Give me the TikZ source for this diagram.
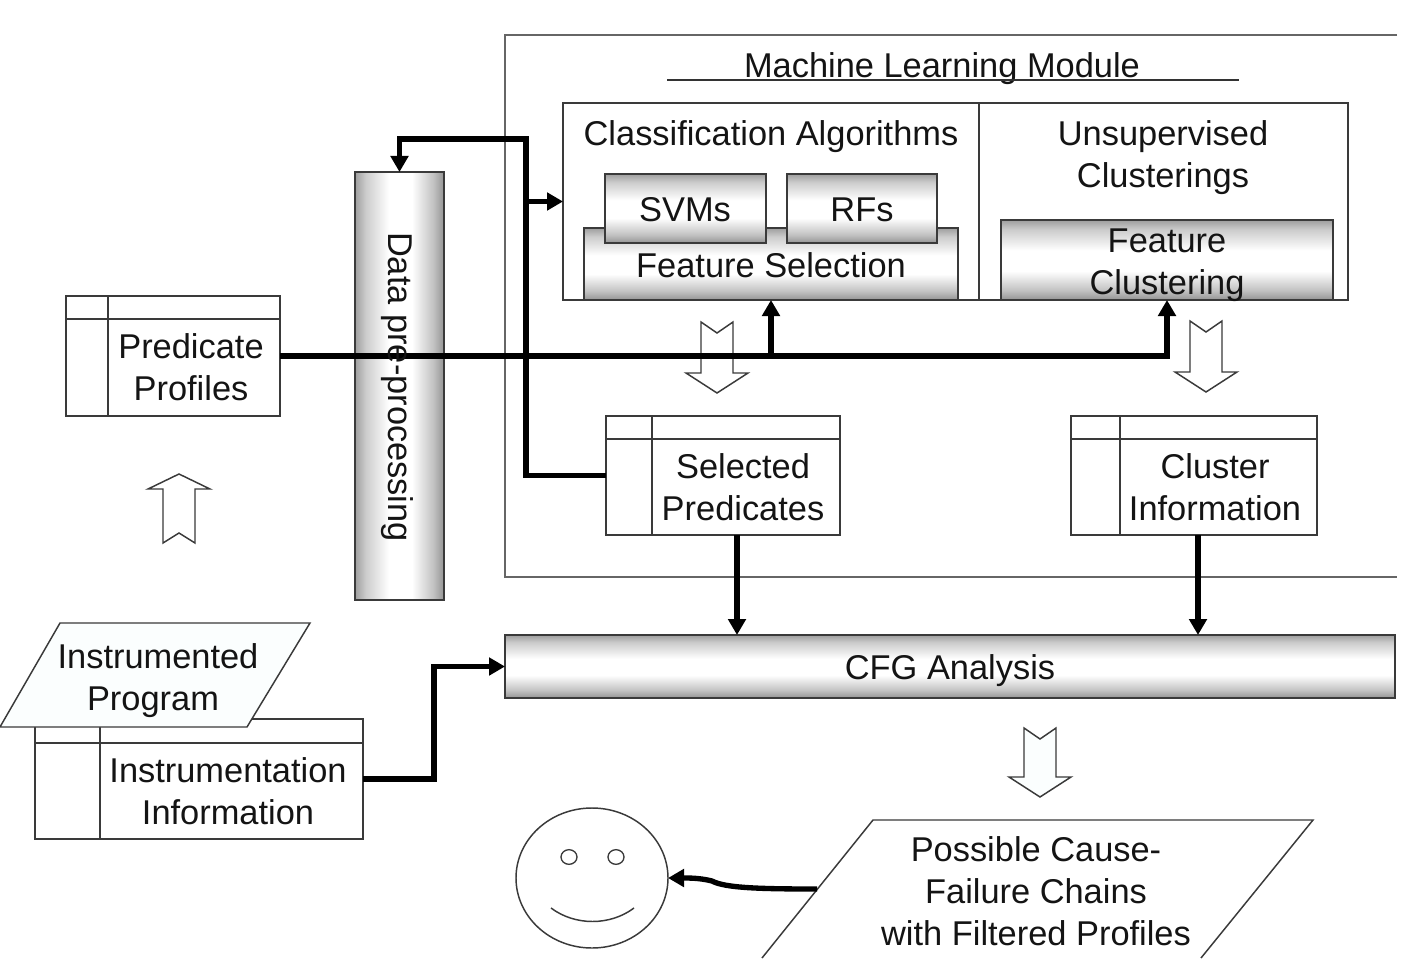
\documentclass[tikz,border=0pt]{standalone}
\usepackage{fontspec}
\setmainfont{Liberation Sans}
\usetikzlibrary{arrows.meta,fit,calc,shapes.geometric}
\pgfdeclareverticalshading{bandshade}{100bp}{color(0bp)=(black!42);color(25bp)=(black!42);color(31bp)=(black!24);color(43bp)=(white);color(56bp)=(white);color(69bp)=(black!20);color(75bp)=(black!38);color(100bp)=(black!38)}
\definecolor{paleblue}{HTML}{FBFEFE}
\definecolor{linegray}{HTML}{3A3A3A}
\tikzset{
  x=0.75pt,y=-0.75pt,
  panel/.style={draw=linegray,line width=1.1pt,inner sep=0pt,outer sep=0pt},
  bandbox/.style={panel,shade,shading=bandshade},
  bandside/.style={bandbox,shading angle=90},
  lbl/.style={font=\fontsize{25.8pt}{31.5pt}\selectfont,align=center,inner sep=0pt,text=black!92},
  thin line/.style={draw=linegray,line width=1.1pt},
  flow/.style={draw=black,line width=4.4pt,-{Triangle[length=12pt,width=13pt]}},
  hollow/.style={draw=linegray,line width=1.1pt,line join=miter},
}
\newcommand{\downblock}[4]{% centre x, top y, head y, extra style
  \draw[hollow,#4] (#1-16,#2) -- (#1,#2+11) -- (#1+16,#2) -- (#1+16,#3) -- (#1+31,#3) -- (#1,#3+20) -- (#1-31,#3) -- (#1-16,#3) -- cycle;}
\begin{document}
\begin{tikzpicture}
\useasboundingbox (0,0) rectangle (1406,970);
\fill[white] (0,0) rectangle (1406,970);

% machine learning module frame (open at right)
\draw[draw=black!60,line width=1.3pt] (1397,35) -- (505,35) -- (505,577) -- (1397,577);
\node[lbl] (mlm) at (942,69) {Machine Learning Module};
\coordinate (ulL) at (667,80);
\coordinate (ulR) at (1239,80);
\draw[thin line,draw=black!80] (ulL) -- (ulR);

% algorithms panel
\node[panel,fit={(563,103)(1348,300)}] (cls) {};
\coordinate (divtop) at (979,103);
\draw[thin line] (divtop) -- (divtop |- cls.south);
\node[lbl] (clst) at (771,137) {Classification Algorithms};
\node[lbl] (unst) at (1163,158) {Unsupervised\\Clusterings};
\node[bandbox,fit={(584,228)(958,300)}] (fs) {};
\node[bandbox,fit={(605,174)(766,243)}] (svm) {};
\node[bandbox,fit={(787,174)(937,243)}] (rf) {};
\node[bandbox,fit={(1001,220)(1333,300)}] (fc) {};
\node[lbl] (svmt) at (685,210) {SVMs};
\node[lbl] (rft) at (862,210) {RFs};
\node[lbl] (fst) at (771,265) {Feature Selection};
\node[lbl] (fct) at (1167,265) {Feature\\Clustering};

% data pre-processing bar
\node[bandside,fit={(355,172)(444,600)}] (data) {};

% tables
\node[panel,fit={(66,296)(280,416)}] (pred) {};
\coordinate (predH) at (0,319); \coordinate (predC) at (108,0);
\draw[thin line] (pred.west |- predH) -- (pred.east |- predH);
\draw[thin line] (predC |- pred.north) -- (predC |- pred.south);
\node[lbl] (predt) at (191,367) {Predicate\\Profiles};

\node[panel,fit={(606,416)(840,535)}] (sel) {};
\coordinate (selH) at (0,439); \coordinate (selC) at (652,0);
\draw[thin line] (sel.west |- selH) -- (sel.east |- selH);
\draw[thin line] (selC |- sel.north) -- (selC |- sel.south);
\node[lbl] (selt) at (743,487) {Selected\\Predicates};

\node[panel,fit={(1071,416)(1317,535)}] (clu) {};
\coordinate (cluH) at (0,439); \coordinate (cluC) at (1120,0);
\draw[thin line] (clu.west |- cluH) -- (clu.east |- cluH);
\draw[thin line] (cluC |- clu.north) -- (cluC |- clu.south);
\node[lbl] (clut) at (1215,487) {Cluster\\Information};

\node[panel,fit={(35,719)(363,839)}] (ins) {};
\coordinate (insH) at (0,743); \coordinate (insC) at (100,0);
\draw[thin line] (ins.west |- insH) -- (ins.east |- insH);
\draw[thin line] (insC |- ins.north) -- (insC |- ins.south);
\node[lbl] (inst) at (228,791) {Instrumentation\\Information};

% instrumented program parallelogram
\draw[thin line,fill=paleblue] (60,623) -- (310,623) -- (247,727) -- (0,727) -- cycle;
\node[lbl] (prog1) at (158,656) {Instrumented};
\node[lbl] (prog2) at (153,702) {Program};

% CFG analysis
\node[bandbox,fit={(505,635)(1395,698)}] (cfg) {};
\node[lbl] (cfgt) at (950,671) {CFG Analysis};

% hollow block arrows
\downblock{717}{322}{373}{}
\downblock{1206}{321}{372}{}
\downblock{1040}{728}{777}{fill=paleblue}
\draw[hollow] (163,543) -- (179,533) -- (195,543) -- (195,489) -- (210,489) -- (179,474) -- (148,489) -- (163,489) -- cycle;

% connectors
\coordinate (spine) at (526,0);
\coordinate (top) at (0,139);
\coordinate (selx) at (737,0);
\coordinate (clux) at (1198,0);
\coordinate (insb) at (434,0);
\draw[flow] (pred.east) -- (fc.south |- pred.east) -- (fc.south);
\draw[flow] (fs.south |- pred.east) -- (fs.south);
\draw[flow] (sel.west) -- (spine |- sel.west) -- (spine |- top) -- (data.north |- top) -- (data.north);
\draw[flow] (spine |- cls.west) -- (cls.west);
\draw[flow] (selx |- sel.south) -- (selx |- cfg.north);
\draw[flow] (clux |- clu.south) -- (clux |- cfg.north);
\draw[flow] (ins.east) -- (insb |- ins.east) -- (insb |- cfg.west) -- (cfg.west);

% data bar label above the line
\node[lbl,rotate=-90] (datat) at (397,387) {Data pre-processing};

% smiley
\node[draw=linegray,line width=1.1pt,ellipse,inner sep=0pt,outer sep=0pt,minimum width=114pt,minimum height=105pt] (face) at (592,878) {};
\node[draw=linegray,line width=1pt,ellipse,inner sep=0pt,minimum width=12pt,minimum height=11pt] (eyeL) at (569,857) {};
\node[draw=linegray,line width=1pt,ellipse,inner sep=0pt,minimum width=12pt,minimum height=11pt] (eyeR) at (616,857) {};
\coordinate (smL) at (551,908);
\coordinate (smR) at (634,908);
\draw[thin line] (smL) .. controls (575,926) and (610,926) .. (smR);

% result parallelogram, cut by the picture's lower edge
\draw[thin line,line cap=butt] (762,958) -- (873,820) -- (1313,820) -- (1201,958);
\node[lbl] (res) at (1036,891) {Possible Cause-\\Failure Chains\\with Filtered Profiles};
\coordinate (resOut) at (817,889);
\draw[flow,line width=4pt] (resOut) .. controls (760,889) and (725,888) .. (712,881) .. controls (700,878) and (690,878) .. (face.east);
\end{tikzpicture}
\end{document}
